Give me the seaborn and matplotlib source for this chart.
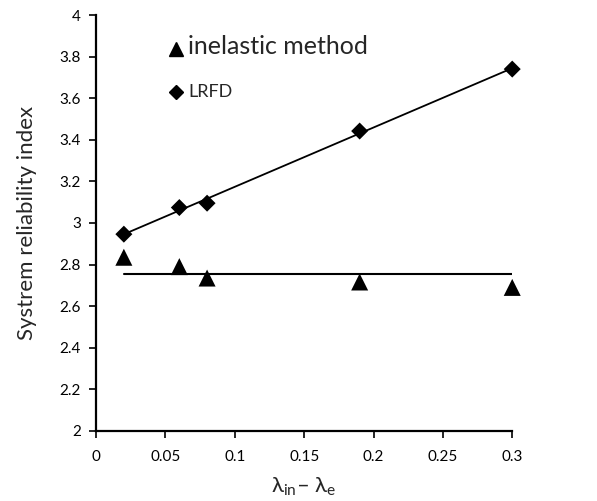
import numpy as np
import pandas as pd
import matplotlib
matplotlib.use("Agg")
import matplotlib.pyplot as plt
import seaborn as sns
from matplotlib.lines import Line2D

x_vals = [0.02, 0.06, 0.08, 0.19, 0.30]
inelastic = [2.835, 2.79, 2.735, 2.716, 2.69]
lrfd = [2.946, 3.074, 3.095, 3.442, 3.74]
x_ticks = [0, 0.05, 0.1, 0.15, 0.2, 0.25, 0.3]
x_tick_labels = ["0", "0.05", "0.1", "0.15", "0.2", "0.25", "0.3"]
y_ticks = [2, 2.2, 2.4, 2.6, 2.8, 3, 3.2, 3.4, 3.6, 3.8, 4]
y_tick_labels = ["2", "2.2", "2.4", "2.6", "2.8", "3", "3.2", "3.4", "3.6", "3.8", "4"]
series_names = ["inelastic method", "LRFD"]

sns.set_theme(style="white")
plt.rcParams['font.family'] = ['Lato', 'DejaVu Sans']
plt.rcParams['mathtext.fontset'] = 'custom'
plt.rcParams['mathtext.rm'] = 'Lato'
plt.rcParams['mathtext.it'] = 'Lato'

fig = plt.figure(figsize=(5.97, 5.01), dpi=100)
ax = fig.add_axes([0.161, 0.140, 0.697, 0.830])

# trend lines
sns.regplot(x=x_vals, y=lrfd, scatter=False, ci=None, color="black",
            line_kws={"lw": 1.3}, ax=ax, truncate=True)
mean_in = float(np.mean(inelastic))
sns.lineplot(x=[min(x_vals), max(x_vals)], y=[mean_in, mean_in], color="black",
             lw=1.5, ax=ax, legend=False)

sns.scatterplot(x=x_vals, y=inelastic, marker="^", color="black", s=150,
                edgecolor="none", ax=ax, legend=False, zorder=3, clip_on=False)
sns.scatterplot(x=x_vals, y=lrfd, marker="D", color="black", s=75,
                edgecolor="none", ax=ax, legend=False, zorder=3, clip_on=False)

ax.set_xlim(0, 0.3)
ax.set_ylim(2, 4)
ax.set_xticks(x_ticks)
ax.set_xticklabels(x_tick_labels)
ax.set_yticks(y_ticks)
ax.set_yticklabels(y_tick_labels)
ax.tick_params(axis="both", direction="out", length=5, width=1.2, labelsize=11,
               colors="black", bottom=True, left=True)
ax.tick_params(axis="x", pad=9)
ax.tick_params(axis="y", pad=6)
sns.despine(ax=ax)
for s in ["left", "bottom"]:
    ax.spines[s].set_linewidth(1.6)
    ax.spines[s].set_color("black")

ax.set_ylabel("Systrem reliability index", fontsize=16, labelpad=16)
ax.set_xlabel(r"λ$_{\mathrm{in}}$– λ$_{\mathrm{e}}$", fontsize=16, labelpad=8)

# legend
handles = [Line2D([], [], marker="^", color="black", lw=0, markersize=10),
           Line2D([], [], marker="D", color="black", lw=0, markersize=7)]
leg = ax.legend(handles, series_names, loc="upper left", bbox_to_anchor=(0.14, 0.985),
                frameon=False, handletextpad=0.3, labelspacing=1.7, handlelength=1.0)
leg.get_texts()[0].set_fontsize(18)
leg.get_texts()[1].set_fontsize(13)

fig.savefig("out.png", dpi=100)
